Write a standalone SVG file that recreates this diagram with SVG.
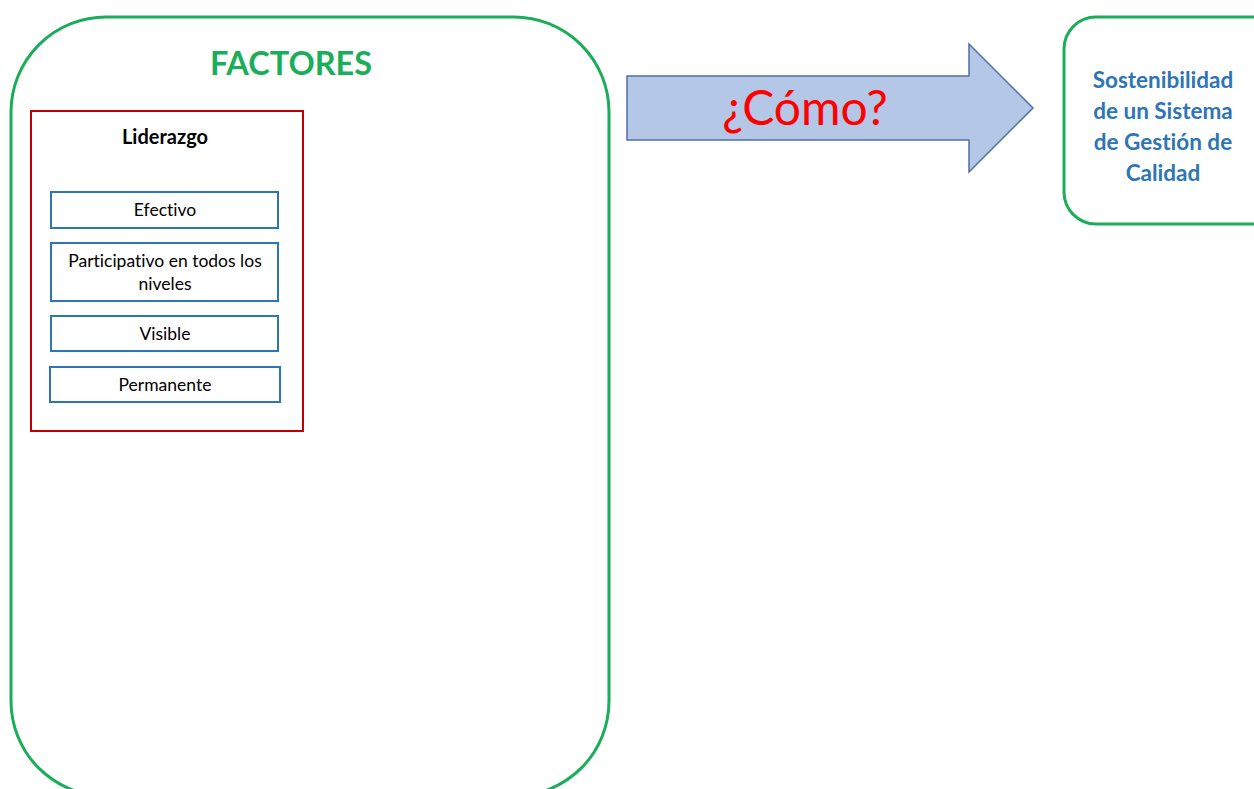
<svg xmlns="http://www.w3.org/2000/svg" width="1254" height="789" viewBox="0 0 1254 789">
<style>
text{font-variant-ligatures:none;font-feature-settings:"liga" 0}
.green{fill:#fff;stroke:#1BAE5A;stroke-width:3}
.item{fill:#fff;stroke:#2E75B6;stroke-width:2}
.t{font-family:Lato,"Open Sans",sans-serif;font-size:17.5px;fill:#000;text-anchor:middle}
.b{font-family:Lato,"Open Sans",sans-serif;font-weight:bold;text-anchor:middle}
</style>
<rect width="1254" height="789" fill="#fff"/>
<g id="factores">
<rect class="green" x="11" y="17" width="598" height="779" rx="95" ry="95"/>
<text class="b" x="291" y="75" font-size="32.5" fill="#1BAE5A">FACTORES</text>
</g>
<g id="liderazgo">
<rect x="31" y="111" width="272" height="320" fill="#fff" stroke="#C00000" stroke-width="2"/>
<text class="b" x="165" y="144" font-size="20" fill="#000">Liderazgo</text>
</g>
<g id="efectivo">
<rect class="item" x="51" y="192" width="227" height="36"/>
<text class="t" x="165" y="216">Efectivo</text>
</g>
<g id="participativo">
<rect class="item" x="51" y="243" width="227" height="58"/>
<text class="t" x="165" y="267">Participativo en todos los</text>
<text class="t" x="165" y="290">niveles</text>
</g>
<g id="visible">
<rect class="item" x="51" y="316" width="227" height="35"/>
<text class="t" x="165" y="340">Visible</text>
</g>
<g id="permanente">
<rect class="item" x="50" y="367" width="230" height="35"/>
<text class="t" x="165" y="391">Permanente</text>
</g>
<g id="connectors">
<g id="como">
<polygon points="627,76 969,76 969,44 1033,108 969,172 969,140 627,140" fill="#B4C7E7" stroke="#4F6FA5" stroke-width="1.5"/>
<text x="805" y="125" font-family="Lato,'Open Sans',sans-serif" font-size="48" fill="#FF0000" text-anchor="middle">¿Cómo?</text>
</g>
</g>
<g id="sostenibilidad">
<rect class="green" x="1064" y="17" width="220" height="207" rx="32" ry="32"/>
<text class="b" x="1163" y="88" font-size="22.5" fill="#2E75B6">Sostenibilidad</text>
<text class="b" x="1163" y="119" font-size="22.5" fill="#2E75B6">de un Sistema</text>
<text class="b" x="1163" y="150" font-size="22.5" fill="#2E75B6">de Gestión de</text>
<text class="b" x="1163" y="181" font-size="22.5" fill="#2E75B6">Calidad</text>
</g>
</svg>
